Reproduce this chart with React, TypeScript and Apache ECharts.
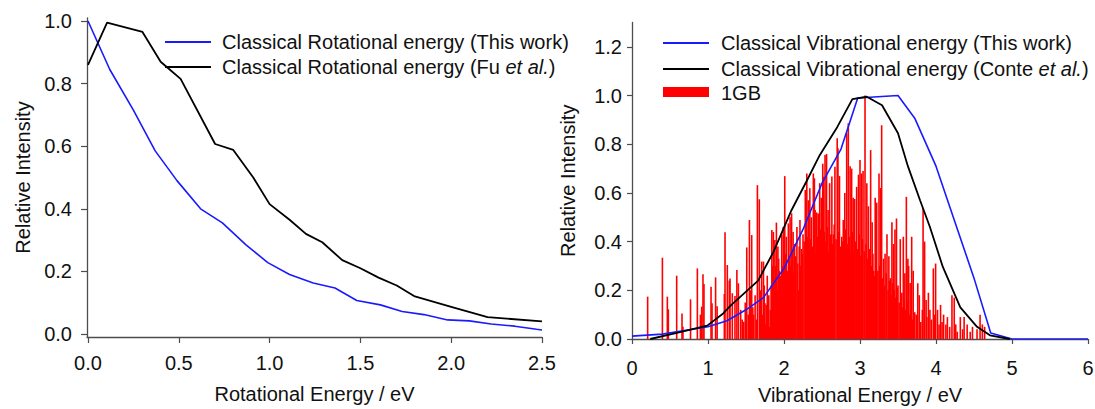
import React, { useEffect, useRef } from "react";
import * as echarts from "echarts";

// ---- Data ----
const rotXTicks = [0, 0.5, 1.0, 1.5, 2.0, 2.5];
const rotYTicks = [0, 0.2, 0.4, 0.6, 0.8, 1.0];
const vibXTicks = [0, 1, 2, 3, 4, 5, 6];
const vibYTicks = [0, 0.2, 0.4, 0.6, 0.8, 1.0, 1.2];

// Classical rotational energy (This work)
const rotThisWork: [number, number][] = [
  [0.0, 1.0], [0.12, 0.845], [0.25, 0.715], [0.37, 0.585], [0.49, 0.49],
  [0.62, 0.4], [0.74, 0.355], [0.87, 0.285], [0.99, 0.228], [1.11, 0.19],
  [1.24, 0.163], [1.36, 0.147], [1.48, 0.107], [1.61, 0.093], [1.73, 0.072],
  [1.85, 0.062], [1.98, 0.045], [2.1, 0.042], [2.22, 0.032], [2.35, 0.025],
  [2.47, 0.015], [2.5, 0.013],
];

// Classical rotational energy (Fu et al.)
const rotFu: [number, number][] = [
  [0.0, 0.86], [0.105, 0.995], [0.3, 0.965], [0.4, 0.87], [0.44, 0.85],
  [0.51, 0.815], [0.7, 0.607], [0.8, 0.588], [0.91, 0.5], [1.0, 0.415],
  [1.11, 0.365], [1.2, 0.32], [1.29, 0.293], [1.4, 0.236], [1.5, 0.21],
  [1.6, 0.18], [1.7, 0.155], [1.8, 0.12], [2.0, 0.087], [2.2, 0.054],
  [2.5, 0.04],
];

// Classical vibrational energy (This work)
const vibThisWork: [number, number][] = [
  [0, 0.012], [0.4, 0.02], [1.0, 0.05], [1.25, 0.075], [1.5, 0.12],
  [1.73, 0.17], [2.0, 0.29], [2.25, 0.45], [2.5, 0.64], [2.75, 0.78],
  [2.97, 0.99], [3.5, 1.0], [3.72, 0.907], [4.0, 0.71], [4.25, 0.48],
  [4.5, 0.25], [4.72, 0.025], [5.0, 0.0], [6.0, 0.0],
];

// Classical vibrational energy (Conte et al.)
const vibConte: [number, number][] = [
  [0.24, 0.0], [0.59, 0.025], [0.99, 0.055], [1.2, 0.105], [1.29, 0.135],
  [1.66, 0.24], [1.86, 0.357], [2.1, 0.53], [2.3, 0.65], [2.47, 0.755],
  [2.56, 0.8], [2.7, 0.87], [2.9, 0.985], [3.09, 0.995], [3.29, 0.96],
  [3.5, 0.845], [3.63, 0.71], [3.79, 0.57], [3.92, 0.46], [4.09, 0.296],
  [4.32, 0.13], [4.54, 0.05], [4.71, 0.015], [4.97, 0.0],
];

// 1GB stick spectrum: the taller, individually visible sticks
const sticks1GBTall: [number, number][] = [
  [0.206, 0.174], [0.4, 0.334], [0.465, 0.174], [0.478, 0.122], [0.588, 0.26],
  [0.658, 0.105], [0.67, 0.05], [0.77, 0.163], [0.86, 0.29], [0.9, 0.1],
  [0.917, 0.133], [0.934, 0.266], [0.947, 0.226], [1.04, 0.215], [1.053, 0.147],
  [1.1, 0.253], [1.12, 0.135], [1.215, 0.185], [1.224, 0.438], [1.254, 0.304],
  [1.28, 0.24], [1.29, 0.249], [1.32, 0.188], [1.355, 0.177], [1.38, 0.283],
  [1.4, 0.229], [1.47, 0.071], [1.51, 0.376], [1.545, 0.489], [1.575, 0.427],
  [1.6, 0.1], [1.65, 0.632], [1.675, 0.574], [1.706, 0.318], [1.73, 0.318],
  [1.75, 0.147], [1.77, 0.14], [1.79, 0.135], [1.81, 0.05], [1.84, 0.448],
  [1.86, 0.44], [1.88, 0.407], [1.9, 0.478], [1.92, 0.38], [1.94, 0.28],
  [1.97, 0.427], [1.99, 0.46], [2.01, 0.669], [2.03, 0.42], [2.057, 0.475],
  [2.08, 0.5], [2.1, 0.516], [2.12, 0.44], [2.14, 0.39], [2.17, 0.46],
  [2.19, 0.2], [2.21, 0.489], [2.23, 0.37], [2.25, 0.43], [2.28, 0.612],
  [2.3, 0.68], [2.32, 0.57], [2.34, 0.619], [2.36, 0.5], [2.386, 0.68],
  [2.4, 0.66], [2.41, 0.53], [2.43, 0.52], [2.45, 0.515], [2.47, 0.64],
  [2.49, 0.58], [2.51, 0.72], [2.52, 0.667], [2.54, 0.756], [2.56, 0.76],
  [2.58, 0.53], [2.6, 0.64], [2.61, 0.427], [2.63, 0.667], [2.65, 0.43],
  [2.67, 0.708], [2.7, 0.825], [2.71, 0.783], [2.73, 0.67], [2.76, 0.42],
  [2.78, 0.489], [2.8, 0.6], [2.825, 0.845], [2.846, 0.886], [2.87, 0.71],
  [2.89, 0.7], [2.91, 0.58], [2.93, 0.575], [2.956, 0.625], [2.98, 0.675],
  [3.0, 0.735], [3.02, 0.68], [3.04, 0.69], [3.066, 1.0], [3.09, 0.64],
  [3.11, 0.545], [3.14, 0.776], [3.16, 0.48], [3.18, 0.28], [3.2, 0.58],
  [3.22, 0.56], [3.25, 0.68], [3.27, 0.62], [3.285, 0.878], [3.31, 0.33],
  [3.33, 0.35], [3.355, 0.43], [3.38, 0.34], [3.4, 0.25], [3.42, 0.48],
  [3.44, 0.39], [3.46, 0.45], [3.48, 0.495], [3.5, 0.22], [3.53, 0.41],
  [3.55, 0.19], [3.57, 0.42], [3.59, 0.27], [3.61, 0.584], [3.63, 0.33],
  [3.64, 0.3], [3.66, 0.23], [3.68, 0.42], [3.7, 0.28], [3.72, 0.11],
  [3.76, 0.229], [3.78, 0.18], [3.83, 0.537], [3.85, 0.4], [3.87, 0.16],
  [3.9, 0.19], [3.92, 0.12], [3.965, 0.29], [3.995, 0.31], [4.02, 0.12],
  [4.06, 0.14], [4.1, 0.1], [4.13, 0.06], [4.15, 0.09], [4.21, 0.18],
  [4.24, 0.17], [4.28, 0.03], [4.32, 0.09], [4.37, 0.09], [4.41, 0.06],
  [4.48, 0.05], [4.54, 0.04], [4.58, 0.1], [4.61, 0.06], [4.64, 0.05],
];

// 1GB stick spectrum: the low, densely packed sticks under the envelope
const sticks1GBDense: [number, number][] = [
  [1.43, 0.12], [1.45, 0.08], [1.49, 0.15], [1.53, 0.1], [1.56, 0.2],
  [1.59, 0.13], [1.62, 0.18], [1.64, 0.08], [1.69, 0.2], [1.72, 0.1],
  [1.74, 0.22], [1.76, 0.06], [1.78, 0.26], [1.8, 0.18], [1.82, 0.12],
  [1.83, 0.22], [1.85, 0.3], [1.87, 0.25], [1.89, 0.3], [1.91, 0.2],
  [1.93, 0.33], [1.95, 0.26], [1.98, 0.3], [2.0, 0.24], [2.02, 0.35],
  [2.045, 0.28], [2.07, 0.33], [2.09, 0.3], [2.11, 0.36], [2.13, 0.27],
  [2.155, 0.34], [2.18, 0.31], [2.2, 0.38], [2.22, 0.3], [2.24, 0.35],
  [2.265, 0.4], [2.29, 0.33], [2.31, 0.42], [2.33, 0.36], [2.35, 0.41],
  [2.375, 0.38], [2.395, 0.44], [2.42, 0.35], [2.44, 0.42], [2.46, 0.39],
  [2.48, 0.45], [2.5, 0.37], [2.53, 0.44], [2.55, 0.4], [2.57, 0.46],
  [2.59, 0.36], [2.62, 0.43], [2.64, 0.39], [2.66, 0.47], [2.685, 0.41],
  [2.72, 0.44], [2.745, 0.38], [2.77, 0.4], [2.79, 0.34], [2.81, 0.45],
  [2.835, 0.39], [2.86, 0.42], [2.88, 0.36], [2.9, 0.44], [2.92, 0.35],
  [2.945, 0.4], [2.97, 0.37], [2.99, 0.43], [3.01, 0.34], [3.03, 0.41],
  [3.055, 0.36], [3.08, 0.39], [3.1, 0.33], [3.125, 0.37], [3.15, 0.3],
  [3.17, 0.35], [3.19, 0.26], [3.21, 0.32], [3.235, 0.28], [3.26, 0.3],
  [3.3, 0.25], [3.32, 0.22], [3.345, 0.27], [3.37, 0.2], [3.39, 0.24],
  [3.41, 0.18], [3.43, 0.23], [3.45, 0.2], [3.47, 0.17], [3.49, 0.21],
  [3.515, 0.15], [3.54, 0.18], [3.56, 0.13], [3.58, 0.16], [3.6, 0.12],
  [3.62, 0.15], [3.65, 0.1], [3.67, 0.12], [3.69, 0.08], [3.74, 0.1],
  [3.8, 0.07], [3.82, 0.12], [3.88, 0.09], [3.94, 0.08], [3.98, 0.1],
  [4.04, 0.06], [4.08, 0.07], [4.18, 0.05], [4.26, 0.06], [4.35, 0.04],
  [4.45, 0.03],
];

const FONT = "'Liberation Sans', Arial, sans-serif";
const TEXT = "#111111";
const AXIS = "#4d4d4d";
const BLUE = "#1a1aff";
const BLACK = "#000000";
const RED = "#ff0000";

function axisCommon(ticks: number[], fmt: (v: number) => string, margin: number, tickLen: number) {
  return {
    axisLine: { show: true, onZero: false, lineStyle: { color: AXIS, width: 1.3 } },
    axisTick: { show: true, inside: false, length: tickLen, customValues: ticks, lineStyle: { color: AXIS, width: 1.2 } },
    axisLabel: {
      show: true,
      customValues: ticks,
      formatter: (v: number) => fmt(v),
      margin,
      color: TEXT,
      fontSize: 20,
      fontFamily: FONT,
    },
    splitLine: { show: false },
    nameTextStyle: { color: TEXT, fontSize: 20, fontFamily: FONT },
    nameLocation: "middle" as const,
  };
}

export default function App() {
  const ref = useRef<HTMLDivElement>(null);

  useEffect(() => {
    if (!ref.current) return;
    const chart = echarts.init(ref.current, null, { renderer: "svg" });
    const f1 = (v: number) => v.toFixed(1);
    const f0 = (v: number) => String(Math.round(v));

    const legendText = (x: number, y: number, text: string) => ({
      type: "text",
      x,
      y,
      style: {
        text,
        fill: TEXT,
        fontSize: 20,
        fontFamily: FONT,
        verticalAlign: "middle",
        align: "left",
        rich: {
          i: { fontStyle: "italic", fontSize: 20, fontFamily: FONT, fill: TEXT },
        },
      },
    });
    const legendLine = (x: number, y: number, color: string, w: number) => ({
      type: "line",
      shape: { x1: x, y1: y, x2: x + 46, y2: y },
      style: { stroke: color, lineWidth: w },
    });

    chart.setOption({
      animation: false,
      backgroundColor: "#ffffff",
      grid: [
        { left: 87, top: 18, width: 455, height: 319, containLabel: false, outerBoundsMode: "none" },
        { left: 632, top: 22.5, width: 456, height: 316.5, containLabel: false, outerBoundsMode: "none" },
      ],
      xAxis: [
        {
          type: "value",
          gridIndex: 0,
          min: -0.0055,
          max: 2.5,
          name: "Rotational Energy / eV",
          nameGap: 47,
          ...axisCommon(rotXTicks, f1, 16, 6),
        },
        {
          type: "value",
          gridIndex: 1,
          min: 0,
          max: 6,
          name: "Vibrational Energy / eV",
          nameGap: 46,
          ...axisCommon(vibXTicks, f0, 19, 5),
        },
      ],
      yAxis: [
        {
          type: "value",
          gridIndex: 0,
          min: -0.0096,
          max: 1.0096,
          name: "Relative Intensity",
          nameGap: 54,
          ...axisCommon(rotYTicks, f1, 15, 6),
        },
        {
          type: "value",
          gridIndex: 1,
          min: 0,
          max: 1.3,
          name: "Relative Intensity",
          nameGap: 54,
          ...axisCommon(vibYTicks, f1, 10, 5),
        },
      ],
      series: [
        {
          name: "Classical Rotational energy (This work)",
          type: "line",
          xAxisIndex: 0,
          yAxisIndex: 0,
          data: rotThisWork,
          symbol: "none",
          showSymbol: false,
          lineStyle: { color: BLUE, width: 1.6 },
          z: 3,
        },
        {
          name: "Classical Rotational energy (Fu et al.)",
          type: "line",
          xAxisIndex: 0,
          yAxisIndex: 0,
          data: rotFu,
          symbol: "none",
          showSymbol: false,
          lineStyle: { color: BLACK, width: 1.8 },
          z: 3,
        },
        {
          name: "1GB",
          type: "bar",
          xAxisIndex: 1,
          yAxisIndex: 1,
          data: [...sticks1GBTall, ...sticks1GBDense],
          barWidth: 1.6,
          itemStyle: { color: RED },
          z: 1,
        },
        {
          name: "Classical Vibrational energy (This work)",
          type: "line",
          xAxisIndex: 1,
          yAxisIndex: 1,
          data: vibThisWork,
          symbol: "none",
          showSymbol: false,
          lineStyle: { color: BLUE, width: 1.6 },
          z: 3,
        },
        {
          name: "Classical Vibrational energy (Conte et al.)",
          type: "line",
          xAxisIndex: 1,
          yAxisIndex: 1,
          data: vibConte,
          symbol: "none",
          showSymbol: false,
          lineStyle: { color: BLACK, width: 1.8 },
          z: 3,
        },
      ],
      graphic: [
        legendLine(165, 42, BLUE, 1.8),
        legendText(222, 42, "Classical Rotational energy (This work)"),
        legendLine(165, 67, BLACK, 1.8),
        legendText(222, 67, "Classical Rotational energy (Fu {i|et al.})"),
        legendLine(663, 43, BLUE, 1.8),
        legendText(721, 43, "Classical Vibrational energy (This work)"),
        legendLine(663, 69, BLACK, 1.8),
        legendText(721, 69, "Classical Vibrational energy (Conte {i|et al.})"),
        {
          type: "rect",
          shape: { x: 663, y: 87, width: 46, height: 10 },
          style: { fill: RED },
        },
        legendText(721, 93, "1GB"),
      ],
    });
    return () => chart.dispose();
  }, []);

  return (
    <div
      ref={ref}
      style={{ position: "fixed", left: 0, top: 0, width: 1095, height: 409, background: "#fff" }}
    />
  );
}
